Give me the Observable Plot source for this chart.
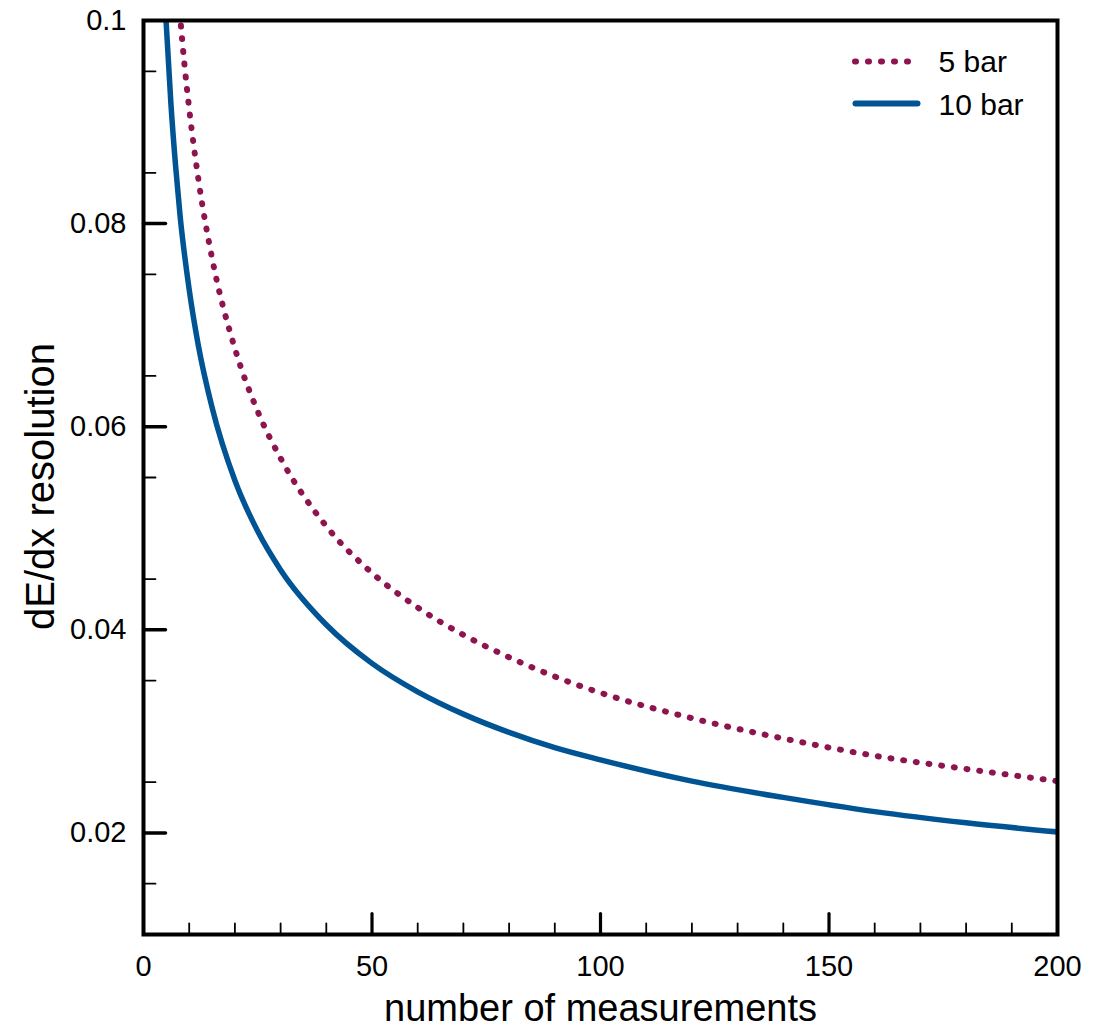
<!DOCTYPE html>
<html>
<head>
<meta charset="utf-8">
<script src="https://cdn.jsdelivr.net/npm/d3@7"></script>
<script src="https://cdn.jsdelivr.net/npm/@observablehq/plot@0.6"></script>
<style>
  body { margin: 0; background: #fff; }
  #chart svg { display: block; }
</style>
</head>
<body>
<div id="chart"></div>
<script>
// ---- data ----
const seriesNames = ["5 bar", "10 bar"];

const n5   = [7.5, 8, 9, 10, 12, 15, 20, 25, 30, 40, 50, 60, 70, 80, 90, 100, 120, 140, 160, 180, 200];
const res5 = [0.1033, 0.1005, 0.0955, 0.0913, 0.0844, 0.0766, 0.0677, 0.0615, 0.0569, 0.0502, 0.0456,
              0.0422, 0.0395, 0.0373, 0.0354, 0.0338, 0.0313, 0.0293, 0.0276, 0.0263, 0.0251];

const n10   = [4.4, 5, 6, 7, 8, 10, 12, 15, 20, 25, 30, 40, 50, 60, 70, 80, 90, 100, 120, 140, 160, 180, 200];
const res10 = [0.1035, 0.0995, 0.0918, 0.0858, 0.0808, 0.0735, 0.0680, 0.0619, 0.0547, 0.0497, 0.0459,
               0.0405, 0.0367, 0.0339, 0.0317, 0.0299, 0.0284, 0.0272, 0.0251, 0.0235, 0.0221, 0.0210, 0.0201];

const xDomain = [0, 200];
const yDomain = [0.01, 0.1];
const xTicksMajor = [0, 50, 100, 150, 200];
const xTicksInner = [50, 100, 150];
const xTicksMinor = [10, 20, 30, 40, 60, 70, 80, 90, 110, 120, 130, 140, 160, 170, 180, 190];
const yTicksMajor = [0.02, 0.04, 0.06, 0.08, 0.1];
const yTicksInner = [0.02, 0.04, 0.06, 0.08];
const yTicksMinor = [0.015, 0.025, 0.035, 0.045, 0.055, 0.065, 0.075, 0.085, 0.095];
const xTitle = "number of measurements";
const yTitle = "dE/dx resolution";

// ---- build tables ----
const data5 = n5.map((n, i) => ({n, r: res5[i]}));
const data10 = n10.map((n, i) => ({n, r: res10[i]}));

const maroon = "#8e1450";
const blue = "#005493";
const lineShape = {draw(context, l) { context.moveTo(0, 0); context.lineTo(0, -l); }};

const chart = Plot.plot({
  width: 1103,
  height: 1029,
  marginLeft: 143,
  marginRight: 46,
  marginTop: 20,
  marginBottom: 95,
  x: {domain: xDomain},
  y: {domain: yDomain},
  style: {fontFamily: "'Liberation Sans', Arial, Helvetica, sans-serif", background: "#fff", color: "#000"},
  marks: [
    // curves
    Plot.line(data5, {x: "n", y: "r", stroke: maroon, strokeWidth: 6, strokeDasharray: "1 11.8",
      strokeLinecap: "round", curve: "monotone-x", clip: true}),
    Plot.line(data10, {x: "n", y: "r", stroke: blue, strokeWidth: 5.5, curve: "monotone-x", clip: true}),

    // inward ticks
    Plot.vector(xTicksInner, {x: d => d, y: yDomain[0], length: 21, rotate: 0, anchor: "start",
      shape: lineShape, stroke: "#000", strokeWidth: 3.2}),
    Plot.vector(xTicksMinor, {x: d => d, y: yDomain[0], length: 11, rotate: 0, anchor: "start",
      shape: lineShape, stroke: "#000", strokeWidth: 1.8}),
    Plot.vector(yTicksInner, {x: xDomain[0], y: d => d, length: 22, rotate: 90, anchor: "start",
      shape: lineShape, stroke: "#000", strokeWidth: 3.5}),
    Plot.vector(yTicksMinor, {x: xDomain[0], y: d => d, length: 12, rotate: 90, anchor: "start",
      shape: lineShape, stroke: "#000", strokeWidth: 1.8}),

    // tick labels
    Plot.axisX(xTicksMajor, {tickSize: 0, tickPadding: 21, fontSize: 29, tickFormat: d => String(d), label: null}),
    Plot.axisY(yTicksMajor, {tickSize: 0, tickPadding: 17, fontSize: 29, tickFormat: d => String(d), label: null}),

    // axis titles
    Plot.text([xTitle], {frameAnchor: "bottom", dy: 74, fontSize: 38, textAnchor: "middle", lineAnchor: "middle", fill: "#000"}),
    Plot.text([yTitle], {frameAnchor: "left", rotate: -90, dx: -102, dy: 9, fontSize: 40, textAnchor: "middle", lineAnchor: "middle", fill: "#000"}),

    // legend
    Plot.vector([seriesNames[0]], {frameAnchor: "top-right", dx: -202.5, dy: 41, length: 53, rotate: 90, anchor: "start",
      shape: lineShape, stroke: maroon, strokeWidth: 6, strokeDasharray: "1 12", strokeLinecap: "round"}),
    Plot.vector([seriesNames[1]], {frameAnchor: "top-right", dx: -202, dy: 83, length: 62, rotate: 90, anchor: "start",
      shape: lineShape, stroke: blue, strokeWidth: 6, strokeLinecap: "round"}),
    Plot.text([seriesNames[0]], {frameAnchor: "top-right", dx: -119, dy: 42, textAnchor: "start", lineAnchor: "middle", fontSize: 30, fill: "#000"}),
    Plot.text([seriesNames[1]], {frameAnchor: "top-right", dx: -119, dy: 85, textAnchor: "start", lineAnchor: "middle", fontSize: 30, fill: "#000"}),

    // frame
    Plot.frame({stroke: "#000", strokeWidth: 4})
  ]
});
document.getElementById("chart").appendChild(chart);
</script>
</body>
</html>
